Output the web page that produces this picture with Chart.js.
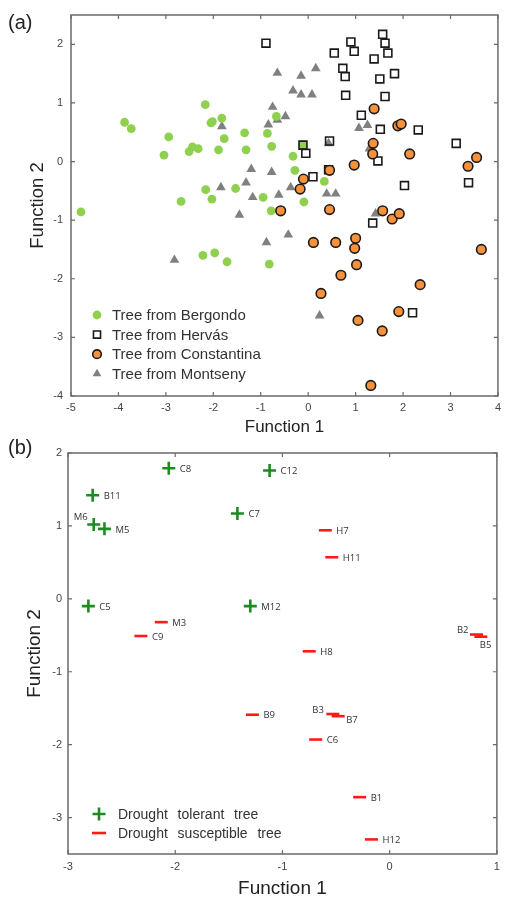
<!DOCTYPE html>
<html lang="en">
<head>
<meta charset="UTF-8">
<title>Discriminant analysis</title>
<script src="https://cdn.jsdelivr.net/npm/chart.js@4.4.1/dist/chart.umd.min.js"></script>
<style>
  body { margin: 0; background: #fff; }
  .wrap { position: relative; width: 506px; height: 904px; }
  .wrap canvas { position: absolute; left: 0; }
  .panel { position: absolute; left: 8px; font: 20px "Liberation Sans", Arial, sans-serif; color: #222; line-height: 23px; }
</style>
</head>
<body>
<div class="wrap">
  <canvas id="chartA" width="506" height="440" style="top:0"></canvas>
  <canvas id="chartB" width="506" height="464" style="top:440px"></canvas>
  <div class="panel" style="top:11px">(a)</div>
  <div class="panel" style="top:436px">(b)</div>
</div>

<script>
// ---- panel (a): scores of each tree, by provenance ----
const bergondoX = [-4.79, -3.87, -3.73, -3.04, -2.94, -2.68, -2.51, -2.44, -2.32, -2.17, -2.16, -2.22, -2.05, -2.02, -2.03, -1.97, -1.89, -1.82, -1.77, -1.71, -1.53, -1.34, -1.31, -0.95, -0.86, -0.82, -0.78, -0.77, -0.67, -0.32, -0.28, -0.11, -0.09, 0.34];
const bergondoY = [-0.86, 0.67, 0.56, 0.11, 0.42, -0.68, 0.17, 0.25, 0.22, 0.97, -0.48, -1.6, 0.66, 0.68, -0.64, -1.56, 0.2, 0.74, 0.39, -1.71, -0.46, 0.49, 0.2, -0.61, 0.48, -1.75, -0.84, 0.26, 0.77, 0.09, -0.15, 0.28, -0.69, -0.34];

const hervasX = [-0.89, 0.55, 0.9, 0.97, 1.57, 1.62, 1.68, 1.39, 0.73, 0.78, 1.51, 1.82, 0.79, 1.62, 1.12, 1.52, 2.32, 3.12, 0.45, -0.11, -0.05, 1.47, 0.43, 0.1, 2.03, 3.38, 1.36, 2.2];
const hervasY = [2.02, 1.85, 2.04, 1.88, 2.17, 2.02, 1.85, 1.75, 1.59, 1.45, 1.41, 1.5, 1.13, 1.11, 0.79, 0.55, 0.54, 0.31, 0.35, 0.28, 0.14, 0.01, -0.14, -0.26, -0.41, -0.36, -1.05, -2.58];

const constantinaX = [1.39, 1.89, 1.96, 1.37, 1.36, 2.14, 0.97, 3.55, 3.37, 0.45, -0.1, -0.17, -0.58, 0.45, 1.57, 1.77, 1.92, 0.11, 0.58, 1.0, 0.98, 1.02, 0.69, 0.27, 3.65, 2.36, 1.91, 1.05, 1.56, 1.32];
const constantinaY = [0.9, 0.61, 0.64, 0.31, 0.13, 0.13, -0.06, 0.07, -0.08, -0.15, -0.3, -0.47, -0.84, -0.82, -0.84, -0.98, -0.89, -1.38, -1.38, -1.31, -1.48, -1.76, -1.94, -2.25, -1.5, -2.1, -2.56, -2.71, -2.89, -3.82];

const montsenyX = [-2.82, -1.82, -1.84, -1.45, -1.31, -1.2, -1.17, -0.88, -0.84, -0.77, -0.75, -0.65, -0.65, -0.62, -0.48, -0.42, -0.37, -0.32, -0.15, -0.15, 0.08, 0.16, 0.24, 0.39, 0.43, 0.58, 1.07, 1.25, 1.29, 1.42];
const montsenyY = [-1.68, 0.6, -0.44, -0.91, -0.36, -0.13, -0.61, -1.38, 0.63, -0.18, 0.93, 1.51, 0.71, -0.57, 0.77, -1.25, -0.44, 1.21, 1.46, 1.14, 1.14, 1.59, -2.63, -0.55, 0.31, -0.55, 0.57, 0.62, 0.22, -0.89];

// ---- panel (b): drought response of selected trees ----
const tolerantNames = ['C8', 'B11', 'M6', 'M5', 'C7', 'C12', 'C5', 'M12'];
const tolerantX = [-2.06, -2.77, -2.76, -2.66, -1.42, -1.12, -2.81, -1.3];
const tolerantY = [1.79, 1.42, 1.02, 0.96, 1.17, 1.76, -0.1, -0.1];

const susceptibleNames = ['M3', 'C9', 'H7', 'H11', 'H8', 'B2', 'B5', 'B9', 'B3', 'B7', 'C6', 'B1', 'H12'];
const susceptibleX = [-2.13, -2.32, -0.6, -0.54, -0.75, 0.81, 0.85, -1.28, -0.53, -0.48, -0.69, -0.28, -0.17];
const susceptibleY = [-0.32, -0.51, 0.94, 0.57, -0.72, -0.49, -0.52, -1.59, -1.58, -1.61, -1.93, -2.72, -3.3];

const FONT = '"Liberation Sans", Arial, sans-serif';
Chart.defaults.font.family = FONT;
Chart.defaults.color = '#333';

function pts(xs, ys) {
    return xs.map((x, i) => ({ x: x, y: ys[i] }));
}

// box round the plot with short inward ticks on all four sides
const framePlugin = {
    id: 'frame',
    afterDraw(chart) {
        const { ctx, chartArea: a, scales } = chart;
        ctx.save();
        ctx.strokeStyle = '#6a6a6a';
        ctx.lineWidth = 1.5;
        ctx.strokeRect(a.left, a.top, a.right - a.left, a.bottom - a.top);
        ctx.lineWidth = 1.2;
        ctx.beginPath();
        scales.x.ticks.forEach(t => {
            const px = scales.x.getPixelForValue(t.value);
            ctx.moveTo(px, a.bottom); ctx.lineTo(px, a.bottom - 4);
            ctx.moveTo(px, a.top); ctx.lineTo(px, a.top + 4);
        });
        scales.y.ticks.forEach(t => {
            const py = scales.y.getPixelForValue(t.value);
            ctx.moveTo(a.left, py); ctx.lineTo(a.left + 4, py);
            ctx.moveTo(a.right, py); ctx.lineTo(a.right - 4, py);
        });
        ctx.stroke();
        ctx.restore();
    }
};

// legend drawn inside the plot, lower left
const insideLegend = {
    id: 'insideLegend',
    afterDatasetsDraw(chart, args, opts) {
        const { ctx, chartArea: a } = chart;
        ctx.save();
        ctx.font = opts.font;
        ctx.textBaseline = 'middle';
        chart.data.datasets.forEach((ds, i) => {
            const y = a.bottom - opts.bottom + i * opts.rowGap;
            const x = a.left + opts.markerX;
            ctx.fillStyle = ds.pointBackgroundColor;
            ctx.strokeStyle = ds.pointBorderColor;
            ctx.lineWidth = ds.pointBorderWidth;
            Chart.helpers.drawPoint(ctx, {
                pointStyle: ds.pointStyle,
                rotation: 0,
                radius: ds.legendRadius || ds.pointRadius,
                borderWidth: ds.pointBorderWidth
            }, x, y);
            ctx.fillStyle = '#333';
            // draw word by word so the wider spacing can be matched
            let tx = a.left + opts.textX;
            ds.label.split(' ').forEach(w => {
                ctx.fillText(w, tx, y + 1);
                tx += ctx.measureText(w).width + opts.wordGap;
            });
        });
        ctx.restore();
    }
};

// tree codes next to each mark in panel (b)
const labelPlace = {
    M6: [-6, -7, 'right'],
    B2: [-8, -4, 'right'],
    B3: [-9, -4, 'right'],
    B5: [-1, 9, 'left'],
    B7: [8, 4, 'left']
};
const pointLabels = {
    id: 'pointLabels',
    afterDatasetsDraw(chart) {
        const ctx = chart.ctx;
        ctx.save();
        ctx.font = '9.5px "Open Sans", sans-serif';
        ctx.fillStyle = '#333';
        ctx.textBaseline = 'middle';
        chart.data.datasets.forEach((ds, di) => {
            chart.getDatasetMeta(di).data.forEach((el, i) => {
                const name = ds.names[i];
                const p = labelPlace[name] || [11, 1, 'left'];
                ctx.textAlign = p[2];
                ctx.fillText(name, el.x + p[0], el.y + p[1]);
            });
        });
        ctx.restore();
    }
};

function scale(min, max, opts) {
    return {
        type: 'linear',
        min: min,
        max: max,
        grid: { display: false, drawTicks: false },
        border: { display: false },
        ticks: { stepSize: 1, includeBounds: false, padding: opts.pad, color: '#444', font: { size: 11 } },
        title: { display: true, text: opts.title, color: '#222', font: { size: opts.titleSize }, padding: opts.titlePad },
        afterFit: opts.fit
    };
}

const common = {
    responsive: false,
    animation: false,
    events: [],
    plugins: { legend: { display: false }, tooltip: { enabled: false } }
};

new Chart(document.getElementById('chartA'), {
    type: 'scatter',
    data: {
        datasets: [
            { label: 'Tree from Bergondo', data: pts(bergondoX, bergondoY), order: 3,
              pointStyle: 'circle', pointRadius: 4.4, pointBorderWidth: 0,
              pointBackgroundColor: '#8fd14f', pointBorderColor: '#8fd14f' },
            { label: 'Tree from Hervás', data: pts(hervasX, hervasY), order: 2,
              pointStyle: 'rect', pointRadius: 5.6, legendRadius: 5, pointBorderWidth: 1.6,
              pointBackgroundColor: 'rgba(255,255,255,0)', pointBorderColor: '#1a1a1a' },
            { label: 'Tree from Constantina', data: pts(constantinaX, constantinaY), order: 1,
              pointStyle: 'circle', pointRadius: 4.8, legendRadius: 4.3, pointBorderWidth: 1.6,
              pointBackgroundColor: '#f7923a', pointBorderColor: '#1a1a1a' },
            { label: 'Tree from Montseny', data: pts(montsenyX, montsenyY), order: 4,
              pointStyle: 'triangle', pointRadius: 5.6, legendRadius: 5, pointBorderWidth: 0,
              pointBackgroundColor: '#808080', pointBorderColor: '#808080' }
        ]
    },
    options: Object.assign({}, common, {
        layout: { padding: { top: 15, right: 4, left: 0, bottom: 0 } },
        scales: {
            x: scale(-5, 4, { pad: 5, title: 'Function 1', titleSize: 17, titlePad: { top: 0, bottom: 2 }, fit: s => { s.height = 44; } }),
            y: scale(-4, 2.5, { pad: 8, title: 'Function 2', titleSize: 18.5, titlePad: { top: 27, bottom: 0 }, fit: s => { s.width = 71; } })
        },
        plugins: Object.assign({}, common.plugins, {
            insideLegend: { font: '15px ' + FONT, bottom: 81, rowGap: 19.6, markerX: 26, textX: 41, wordGap: 4.2 }
        })
    }),
    plugins: [framePlugin, insideLegend]
});

new Chart(document.getElementById('chartB'), {
    type: 'scatter',
    data: {
        datasets: [
            { label: 'Drought tolerant tree', data: pts(tolerantX, tolerantY), names: tolerantNames,
              pointStyle: 'cross', pointRadius: 6.5, pointBorderWidth: 2.6,
              pointBackgroundColor: '#1e8b22', pointBorderColor: '#1e8b22' },
            { label: 'Drought susceptible tree', data: pts(susceptibleX, susceptibleY), names: susceptibleNames,
              pointStyle: 'line', pointRadius: 6.5, legendRadius: 7, pointBorderWidth: 2.6,
              pointBackgroundColor: '#ff1a1a', pointBorderColor: '#ff1a1a' }
        ]
    },
    options: Object.assign({}, common, {
        layout: { padding: { top: 13, right: 2, left: 0, bottom: 0 } },
        scales: {
            x: scale(-3, 1, { pad: 6, title: 'Function 1', titleSize: 19, titlePad: { top: 0, bottom: 4 }, fit: s => { s.height = 50; } }),
            y: scale(-3.5, 2, { pad: 6, title: 'Function 2', titleSize: 19, titlePad: { top: 23, bottom: 0 }, fit: s => { s.width = 68; } })
        },
        plugins: Object.assign({}, common.plugins, {
            insideLegend: { font: '14px ' + FONT, bottom: 40, rowGap: 19, markerX: 31, textX: 50, wordGap: 9.8 }
        })
    }),
    plugins: [framePlugin, pointLabels, insideLegend]
});
</script>
</body>
</html>
